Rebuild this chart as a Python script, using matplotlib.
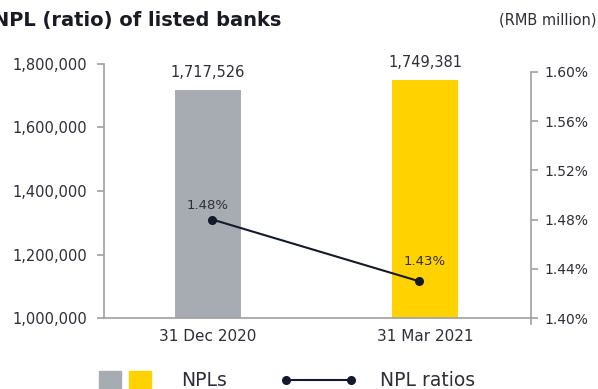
import matplotlib.pyplot as plt
from matplotlib.patches import Rectangle
from matplotlib.lines import Line2D
from matplotlib.ticker import FuncFormatter

# data
periods = ["31 Dec 2020", "31 Mar 2021"]
npls = [1717526, 1749381]
npl_ratios = [1.48, 1.43]

# colours
bar_colors = ["#a7acb2", "#ffd200"]
line_color = "#141a2b"
text_color = "#2e2e38"
axis_color = "#a0a0a0"

plt.rcParams['font.family'] = ['DejaVu Sans']

fig = plt.figure(figsize=(5.98, 3.89), dpi=100)
ax = fig.add_axes([0.1739, 0.1825, 0.7141, 0.653])
ax2 = ax.twinx()

x = range(len(periods))
ax.bar(x, npls, width=0.304, color=bar_colors, zorder=2)
ax.set_xlim(-0.479, 1.488)
ax.set_ylim(1000000, 1800000)
ax.set_yticks([1000000, 1200000, 1400000, 1600000, 1800000])
ax.yaxis.set_major_formatter(FuncFormatter(lambda v, p: f"{int(v):,}"))
ax.set_xticks(list(x))
ax.set_xticklabels(periods)

for i, v in enumerate(npls):
    ax.annotate(f"{v:,}", (i, v), xytext=(0, 7), textcoords="offset points",
                ha="center", va="bottom", fontsize=10.5, color=text_color)

# ratio line on the right axis
ax2.set_ylim(1.40476, 1.60635)
ax2.set_yticks([1.40, 1.44, 1.48, 1.52, 1.56, 1.60])
ax2.yaxis.set_major_formatter(FuncFormatter(lambda v, p: f"{v:.2f}%"))
ax2.plot([0.02, 0.97], npl_ratios, color=line_color, lw=1.5, marker="o",
         markersize=5.5, zorder=3)
label_offsets = [10, 14]
for i, v in enumerate(npl_ratios):
    ax2.annotate(f"{v:.2f}%", (i, v), xytext=(0, label_offsets[i]),
                 textcoords="offset points", ha="center", va="center",
                 fontsize=9.5, color=text_color)

# spines and ticks
for a in (ax, ax2):
    a.spines['top'].set_visible(False)
    for s in ('left', 'right', 'bottom'):
        a.spines[s].set_color(axis_color)
        a.spines[s].set_linewidth(1.2)
ax.spines['right'].set_visible(False)
ax2.spines['left'].set_visible(False)
ax2.spines['bottom'].set_visible(False)
ax2.spines['right'].set_bounds(1.3952, 1.60)

ax.tick_params(axis='y', length=5, width=1.2, color=axis_color, pad=7,
               labelsize=10.5, labelcolor=text_color)
ax.tick_params(axis='x', length=0, pad=8, labelsize=11, labelcolor=text_color)
ax2.tick_params(axis='y', length=5, width=1.2, color=axis_color, pad=5,
                labelsize=10, labelcolor=text_color)

# titles
fig.text(-0.012, 0.948, "NPL (ratio) of listed banks", fontsize=14,
         fontweight="bold", color="#1a1a24", ha="left", va="center")
fig.text(0.997, 0.948, "(RMB million)", fontsize=10.5, color=text_color,
         ha="right", va="center")

# legend along the bottom
fig.patches.append(Rectangle((99 / 598, -0.01), 22 / 598, 22 / 389,
                             transform=fig.transFigure, color=bar_colors[0]))
fig.patches.append(Rectangle((129 / 598, -0.01), 22 / 598, 22 / 389,
                             transform=fig.transFigure, color=bar_colors[1]))
fig.text(181 / 598, 0.023, "NPLs", fontsize=13.5, color=text_color,
         ha="left", va="center")
fig.lines.append(Line2D([286 / 598, 351 / 598], [0.023, 0.023],
                        transform=fig.transFigure, color=line_color, lw=1.5,
                        marker="o", markersize=5.5))
fig.text(380 / 598, 0.023, "NPL ratios", fontsize=13.5, color=text_color,
         ha="left", va="center")

fig.savefig("out.png", dpi=100)
